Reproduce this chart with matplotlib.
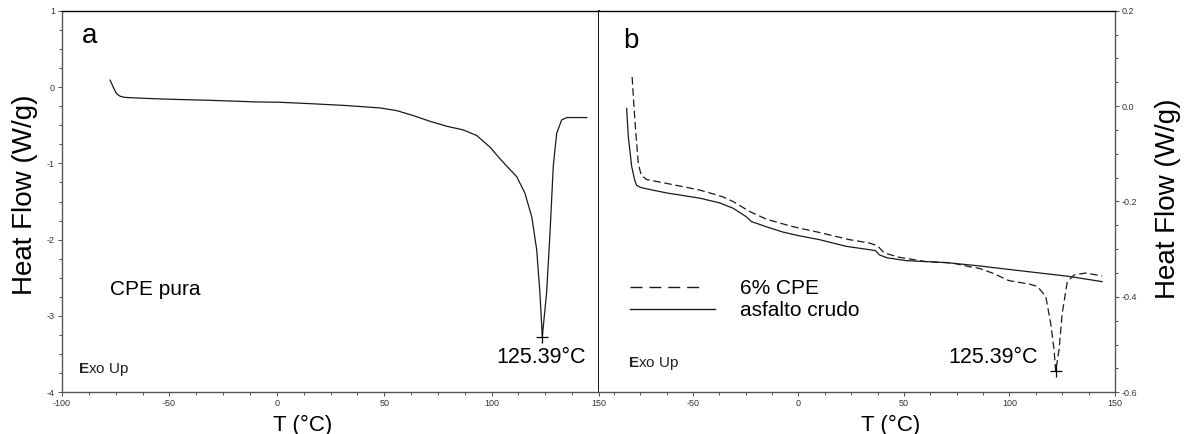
import numpy as np
import matplotlib
matplotlib.use("Agg")
import matplotlib.pyplot as plt
from matplotlib.lines import Line2D
from matplotlib.ticker import MultipleLocator, FormatStrFormatter

plt.rcParams['font.family'] = ['Liberation Sans', 'DejaVu Sans']
plt.rcParams['axes.unicode_minus'] = False
plt.rcParams['mathtext.fontset'] = 'custom'
plt.rcParams['mathtext.bf'] = 'Liberation Sans:bold'
plt.rcParams['mathtext.rm'] = 'Liberation Sans'

# panel a: CPE pura
t_cpe = [-77.6, -76.5, -75.5, -74.5, -73.0, -71.0, -68.0, -60.0, -50.0, -30.0, -10.0,
         1.5, 17.0, 32.5, 48.0, 55.8, 63.5, 71.3, 79.1, 86.8, 93.1, 99.3, 103.9,
         107.5, 111.7, 115.5, 118.7, 121.0, 122.5, 123.6, 125.6, 127.2, 128.7,
         130.3, 132.6, 135.0, 144.3]
hf_cpe = [0.09, 0.02, -0.04, -0.09, -0.12, -0.135, -0.14, -0.15, -0.16, -0.175, -0.195,
          -0.20, -0.22, -0.243, -0.274, -0.309, -0.374, -0.449, -0.514, -0.562, -0.636,
          -0.789, -0.94, -1.05, -1.175, -1.39, -1.70, -2.135, -2.70, -3.27, -2.70, -1.91,
          -1.04, -0.606, -0.432, -0.40, -0.40]

# panel b: asfalto crudo
t_crudo = [-81.4, -80.6, -79.0, -77.6, -76.7, -75.0, -73.5, -62.5, -46.75, -37.3, -31.0,
           -24.7, -22.3, -15.2, -7.4, 0.5, 10.0, 22.6, 33.6, 36.5, 38.4, 42.0, 51.0,
           69.9, 85.6, 95.1, 128.2, 143.9]
hf_crudo = [-0.005, -0.065, -0.127, -0.155, -0.166, -0.170, -0.172, -0.182, -0.193,
            -0.203, -0.214, -0.232, -0.242, -0.253, -0.264, -0.272, -0.280, -0.294,
            -0.301, -0.303, -0.312, -0.318, -0.324, -0.328, -0.335, -0.340, -0.357,
            -0.368]

# panel b: 6% CPE
t_6cpe = [-78.8, -77.5, -75.9, -74.5, -71.9, -62.5, -46.75, -38.9, -36.0, -31.0, -23.1,
          -15.2, -5.75, 0.5, 10.0, 24.2, 33.6, 37.5, 40.7, 47.8, 60.4, 73.0, 82.5, 85.6,
          91.9, 99.8, 109.3, 113.2, 117.2, 119.5, 121.1, 121.9, 123.5, 125.0, 127.4,
          130.6, 136.1, 143.9]
hf_6cpe = [0.061, -0.030, -0.120, -0.145, -0.154, -0.162, -0.176, -0.186, -0.190, -0.200,
           -0.221, -0.237, -0.249, -0.256, -0.265, -0.280, -0.287, -0.293, -0.308, -0.317,
           -0.326, -0.329, -0.338, -0.340, -0.350, -0.366, -0.373, -0.378, -0.399, -0.455,
           -0.510, -0.556, -0.510, -0.434, -0.368, -0.354, -0.350, -0.356]

peak_label = "125.39°C"

W, H = 1185, 434
fig = plt.figure(figsize=(W / 100, H / 100), dpi=100)

def px_axes(x0, x1, y0, y1):
    return fig.add_axes([x0 / W, 1 - y1 / H, (x1 - x0) / W, (y1 - y0) / H])

ax1 = px_axes(62, 599, 10.7, 392.3)
ax2 = px_axes(599, 1115, 10.7, 392.3)

line_col = '#1a1a1a'
spine_gray = '#555555'

# panel a
ax1.plot(t_cpe, hf_cpe, color=line_col, lw=0.9)
i = int(np.argmin(hf_cpe))
ax1.plot(t_cpe[i], hf_cpe[i], marker='+', color='black', ms=8, mew=0.9)
ax1.set_xlim(-100, 150)
ax1.set_ylim(-4, 1)
ax1.xaxis.set_major_locator(MultipleLocator(50))
ax1.xaxis.set_minor_locator(MultipleLocator(12.5))
ax1.yaxis.set_major_locator(MultipleLocator(1))
ax1.yaxis.set_minor_locator(MultipleLocator(0.25))
ax1.yaxis.set_major_formatter(FormatStrFormatter('%d'))

# panel b
ax2.plot(t_crudo, hf_crudo, color=line_col, lw=0.9)
ax2.plot(t_6cpe, hf_6cpe, color=line_col, lw=0.9, dashes=(6, 3))
j = int(np.argmin(hf_6cpe))
ax2.plot(t_6cpe[j], hf_6cpe[j], marker='+', color='black', ms=8, mew=0.9)
ax2.set_xlim(-94.5, 150)
ax2.set_ylim(-0.6, 0.2)
ax2.xaxis.set_major_locator(MultipleLocator(50))
ax2.xaxis.set_minor_locator(MultipleLocator(12.5))
ax2.yaxis.set_major_locator(MultipleLocator(0.2))
ax2.yaxis.set_minor_locator(MultipleLocator(0.05))
ax2.yaxis.set_major_formatter(FormatStrFormatter('%.1f'))
ax2.yaxis.tick_right()
ax2.yaxis.set_label_position('right')

for ax in (ax1, ax2):
    ax.tick_params(which='both', direction='out', labelsize=6.5, width=0.6,
                   colors='#333333', pad=2)
    ax.tick_params(which='major', length=3)
    ax.tick_params(which='minor', length=2.5)
    for s in ax.spines.values():
        s.set_linewidth(1.0)
    ax.spines['top'].set_color('black')
    ax.spines['bottom'].set_color(spine_gray)

ax1.spines['left'].set_color(spine_gray)
ax1.spines['right'].set_color('black')
ax1.spines['right'].set_linewidth(1.3)
ax2.spines['left'].set_visible(False)
ax2.spines['right'].set_color(spine_gray)
ax2.tick_params(axis='y', which='both', left=False, right=True)

# labels
ax1.set_ylabel("Heat Flow (W/g)", fontsize=20)
ax1.yaxis.set_label_coords(-0.045, 0.518)
ax2.set_ylabel("Heat Flow (W/g)", fontsize=20, rotation=90)
ax2.yaxis.set_label_coords(1.0775, 0.508)
ax1.set_xlabel("T (°C)", fontsize=16)
ax1.xaxis.set_label_coords(0.449, -0.06)
ax2.set_xlabel("T (°C)", fontsize=16)
ax2.xaxis.set_label_coords(0.566, -0.06)

# annotations
ax1.text(0.037, 0.915, "a", transform=ax1.transAxes, fontsize=20, va='baseline')
ax2.text(0.0465, 0.902, "b", transform=ax2.transAxes, fontsize=20, va='baseline')
ax1.text(0.089, 0.255, "CPE pura", transform=ax1.transAxes, fontsize=15, va='baseline')
ax1.text(0.976, 0.077, peak_label, transform=ax1.transAxes, fontsize=15.5,
         va='baseline', ha='right')
ax2.text(0.851, 0.077, peak_label, transform=ax2.transAxes, fontsize=15.5,
         va='baseline', ha='right')
ax1.text(0.030, 0.051, r"$\mathbf{E}$xo Up", transform=ax1.transAxes, fontsize=11,
         va='baseline', color='#222222')
ax2.text(0.056, 0.067, r"$\mathbf{E}$xo Up", transform=ax2.transAxes, fontsize=11,
         va='baseline', color='#222222')

# legend: four dashes on the dashed key, long solid key
handles = [Line2D([], [], color=line_col, lw=1.0,
                  dashes=(8.6, 5, 8.6, 5, 8.6, 5, 8.6, 25)),
           Line2D([], [], color=line_col, lw=1.0)]
ax2.legend(handles, ["6% CPE", "asfalto crudo"], loc='upper left',
           bbox_to_anchor=(0.060, 0.297), frameon=False, fontsize=15,
           borderpad=0, borderaxespad=0, handlelength=4.1, handletextpad=1.2,
           labelspacing=0.15)

fig.savefig("out.png", dpi=100)
